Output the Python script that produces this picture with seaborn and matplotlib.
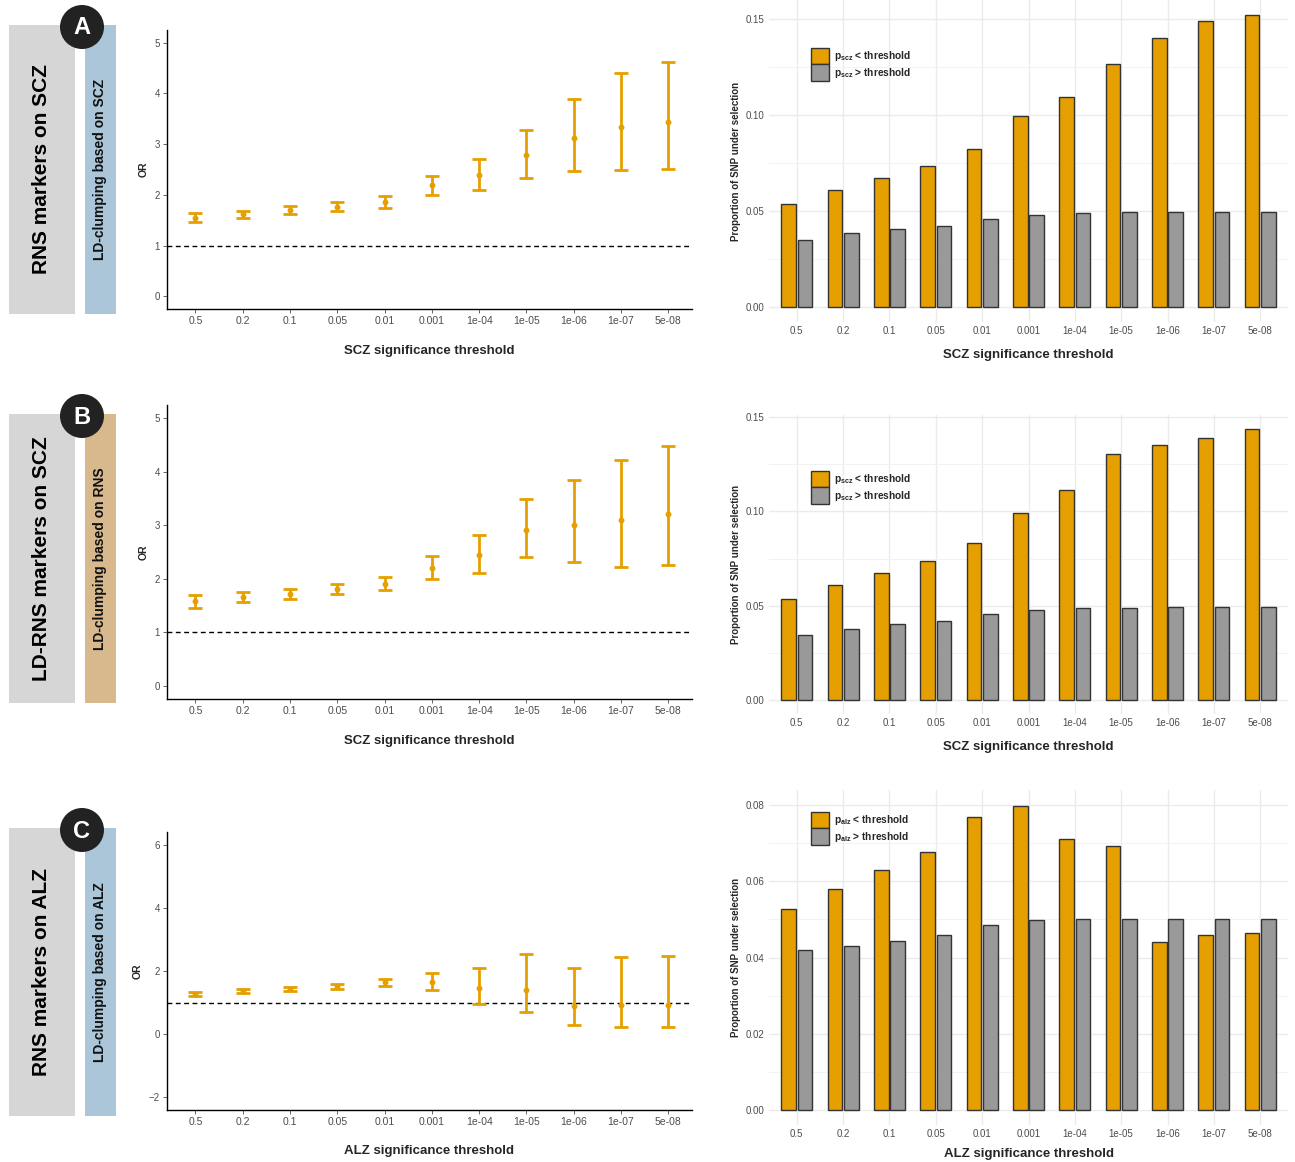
import numpy as np
import pandas as pd
import matplotlib
matplotlib.use("Agg")
import matplotlib.pyplot as plt
from matplotlib.patches import Rectangle, Circle
import seaborn as sns

# ---------------------------------------------------------------- data
thresholds = ["0.5", "0.2", "0.1", "0.05", "0.01", "0.001",
              "1e-04", "1e-05", "1e-06", "1e-07", "5e-08"]

# A: RNS markers on SCZ (LD-clumping based on SCZ)
or_a = [1.55, 1.62, 1.71, 1.77, 1.86, 2.19, 2.39, 2.78, 3.12, 3.34, 3.43]
or_a_lo = [1.46, 1.54, 1.63, 1.69, 1.75, 2.00, 2.10, 2.34, 2.47, 2.49, 2.51]
or_a_hi = [1.65, 1.69, 1.78, 1.86, 1.97, 2.38, 2.70, 3.28, 3.88, 4.40, 4.61]
prop_a_below = [0.0537, 0.0610, 0.0673, 0.0734, 0.0823, 0.0994,
                0.1095, 0.1262, 0.1398, 0.1486, 0.1519]
prop_a_above = [0.0351, 0.0386, 0.0405, 0.0424, 0.0458, 0.0479,
                0.0489, 0.0493, 0.0494, 0.0494, 0.0496]

# B: LD-RNS markers on SCZ (LD-clumping based on RNS)
or_b = [1.58, 1.66, 1.72, 1.81, 1.90, 2.20, 2.44, 2.91, 3.00, 3.09, 3.22]
or_b_lo = [1.46, 1.57, 1.63, 1.71, 1.78, 1.99, 2.11, 2.40, 2.31, 2.22, 2.26]
or_b_hi = [1.69, 1.76, 1.81, 1.91, 2.03, 2.43, 2.81, 3.49, 3.84, 4.22, 4.48]
prop_b_below = [0.0537, 0.0613, 0.0674, 0.0736, 0.0834, 0.0993,
                0.1111, 0.1304, 0.1349, 0.1390, 0.1438]
prop_b_above = [0.0347, 0.0379, 0.0402, 0.0421, 0.0455, 0.0478,
                0.0487, 0.0491, 0.0494, 0.0494, 0.0494]

# C: RNS markers on ALZ (LD-clumping based on ALZ)
or_c = [1.26, 1.37, 1.43, 1.51, 1.645, 1.66, 1.45, 1.41, 0.88, 0.91, 0.92]
or_c_lo = [1.20, 1.31, 1.37, 1.42, 1.52, 1.39, 0.97, 0.71, 0.28, 0.22, 0.23]
or_c_hi = [1.33, 1.42, 1.50, 1.58, 1.76, 1.95, 2.09, 2.55, 2.11, 2.44, 2.47]
prop_c_below = [0.0527, 0.0581, 0.0629, 0.0676, 0.0770, 0.0799,
                0.0711, 0.0693, 0.0442, 0.0460, 0.0465]
prop_c_above = [0.0419, 0.0430, 0.0444, 0.0460, 0.0485, 0.0498,
                0.0500, 0.0500, 0.0500, 0.0500, 0.0500]

# ---------------------------------------------------------------- style
sns.set_theme(style="white")
plt.rcParams["font.family"] = ["Liberation Sans", "DejaVu Sans"]
plt.rcParams["mathtext.fontset"] = "custom"
plt.rcParams["mathtext.rm"] = "Liberation Sans"
plt.rcParams["mathtext.bf"] = "Liberation Sans:bold"

ORANGE = "#E69F00"
GREY = "#999999"
TICK_COL = "#4d4d4d"

W, H = 1295, 1162
fig = plt.figure(figsize=(W / 100, H / 100), dpi=100)


def px_axes(x0, y0, x1, y1, **kw):
    return fig.add_axes([x0 / W, 1 - y1 / H, (x1 - x0) / W, (y1 - y0) / H], **kw)


# overlay for the row banners
deco = px_axes(0, 0, W, H)
deco.set_xlim(0, W)
deco.set_ylim(H, 0)
deco.axis("off")


def banner(top, bottom, letter, title, subtitle, side_col):
    deco.add_patch(Rectangle((9, top), 66, bottom - top, color="#d6d6d6", lw=0))
    deco.add_patch(Rectangle((85, top), 31, bottom - top, color=side_col, lw=0))
    mid = (top + bottom) / 2
    deco.text(42, mid, title, rotation=90, ha="center", va="center",
              fontsize=15, fontweight="bold", color="black")
    deco.text(100, mid, subtitle, rotation=90, ha="center", va="center",
              fontsize=10, fontweight="bold", color="#111111")
    deco.add_patch(Circle((82, top + 2), 22, color="#222222", lw=0, zorder=5))
    deco.text(82, top + 3, letter, ha="center", va="center", fontsize=17,
              fontweight="bold", color="white", zorder=6)


def or_panel(top, bottom, vals, lo, hi, ylim, yticks, xlabel, xpad=14):
    ax = px_axes(167, top, 692, bottom)
    x = np.arange(len(thresholds))
    vals, lo, hi = map(np.asarray, (vals, lo, hi))
    ax.axhline(1, color="black", ls=(0, (3.5, 2.5)), lw=1.0, zorder=1)
    ax.errorbar(x, vals, yerr=[vals - lo, hi - vals], fmt="none",
                ecolor=ORANGE, elinewidth=2.0, capsize=4.8, capthick=2.0, zorder=2)
    sns.scatterplot(x=x, y=vals, color=ORANGE, s=18, edgecolor=ORANGE,
                    linewidth=0, ax=ax, zorder=3, legend=False)
    ax.set_xlim(-0.6, len(thresholds) - 0.5)
    ax.set_ylim(*ylim)
    ax.set_xticks(x)
    ax.set_xticklabels(thresholds)
    ax.set_yticks(yticks)
    ax.tick_params(axis="y", labelsize=7, colors=TICK_COL, length=3, width=0.6,
                   pad=2, left=True)
    ax.tick_params(axis="x", labelsize=7.5, colors=TICK_COL, length=3, width=0.6,
                   pad=2, bottom=True)
    for s in ("top", "right"):
        ax.spines[s].set_visible(False)
    for s in ("left", "bottom"):
        ax.spines[s].set_color("black")
        ax.spines[s].set_linewidth(1.0)
    ax.set_xlabel(xlabel, fontsize=9.5, fontweight="bold", labelpad=xpad)
    ax.set_ylabel("OR", fontsize=7.5, fontweight="bold", labelpad=4.5)
    ax.grid(False)
    return ax


def prop_panel(top, bottom, below, above, ylim, major, minor, xlabel, tag,
               leg_top, xpad=9):
    ax = px_axes(769, top, 1288, bottom)
    lab_lt = r"$\mathbf{p}_{\mathbf{%s}}$ < threshold" % tag
    lab_gt = r"$\mathbf{p}_{\mathbf{%s}}$ > threshold" % tag
    df = pd.DataFrame({
        "threshold": thresholds * 2,
        "group": [lab_lt] * len(thresholds) + [lab_gt] * len(thresholds),
        "proportion": list(below) + list(above),
    })
    sns.barplot(data=df, x="threshold", y="proportion", hue="group",
                order=thresholds, hue_order=[lab_lt, lab_gt],
                palette=[ORANGE, GREY], width=0.7, gap=0.1, errorbar=None,
                edgecolor="#333333", linewidth=1.0, saturation=1, ax=ax, zorder=3)
    ax.set_xlim(-0.6, len(thresholds) - 0.4)
    ax.set_ylim(*ylim)
    ax.set_yticks(major)
    ax.set_yticks(minor, minor=True)
    ax.set_yticklabels([f"{v:.2f}" for v in major])
    ax.grid(True, which="major", color="#ebebeb", lw=1.0, zorder=0)
    ax.grid(True, which="minor", axis="y", color="#f2f2f2", lw=0.7, zorder=0)
    ax.set_axisbelow(True)
    for s in ax.spines.values():
        s.set_visible(False)
    ax.tick_params(axis="both", which="both", length=0, labelsize=7,
                   colors=TICK_COL, pad=3)
    ax.set_xlabel(xlabel, fontsize=9.5, fontweight="bold", labelpad=xpad)
    ax.set_ylabel("Proportion of SNP under selection", fontsize=7,
                  fontweight="bold", labelpad=3.5)
    handles, labels = ax.get_legend_handles_labels()
    if ax.get_legend() is not None:
        ax.get_legend().remove()
    leg = ax.legend(handles, labels, loc="upper left",
                    bbox_to_anchor=(811 / W, 1 - leg_top / H),
                    bbox_transform=fig.transFigure, frameon=False,
                    fontsize=7.3, handlelength=1.75, handleheight=2.1,
                    labelspacing=0.0, borderpad=0, borderaxespad=0,
                    handletextpad=0.55)
    for t in leg.get_texts():
        t.set_fontweight("bold")
    return ax


# ---------------------------------------------------------------- rows
banner(25, 314, "A", "RNS markers on SCZ", "LD-clumping based on SCZ", "#aac6d8")
banner(414, 703, "B", "LD-RNS markers on SCZ", "LD-clumping based on RNS", "#d8b98e")
banner(828, 1116, "C", "RNS markers on ALZ", "LD-clumping based on ALZ", "#aac6d8")

or_panel(30, 309, or_a, or_a_lo, or_a_hi, (-0.25, 5.25), range(0, 6),
         "SCZ significance threshold")
or_panel(405, 699, or_b, or_b_lo, or_b_hi, (-0.25, 5.25), range(0, 6),
         "SCZ significance threshold")
or_panel(832, 1110, or_c, or_c_lo, or_c_hi, (-2.4, 6.4), range(-2, 7, 2),
         "ALZ significance threshold", xpad=13)

prop_panel(0, 322, prop_a_below, prop_a_above, (-0.0076, 0.1597),
           [0.0, 0.05, 0.10, 0.15], [0.025, 0.075, 0.125],
           "SCZ significance threshold", "scz", 48)
prop_panel(415, 714, prop_b_below, prop_b_above, (-0.0072, 0.151),
           [0.0, 0.05, 0.10, 0.15], [0.025, 0.075, 0.125],
           "SCZ significance threshold", "scz", 471)
prop_panel(790, 1125, prop_c_below, prop_c_above, (-0.004, 0.084),
           [0.0, 0.02, 0.04, 0.06, 0.08], [0.01, 0.03, 0.05, 0.07],
           "ALZ significance threshold", "alz", 812, xpad=6)

fig.savefig("out.png", dpi=100, facecolor="white")
